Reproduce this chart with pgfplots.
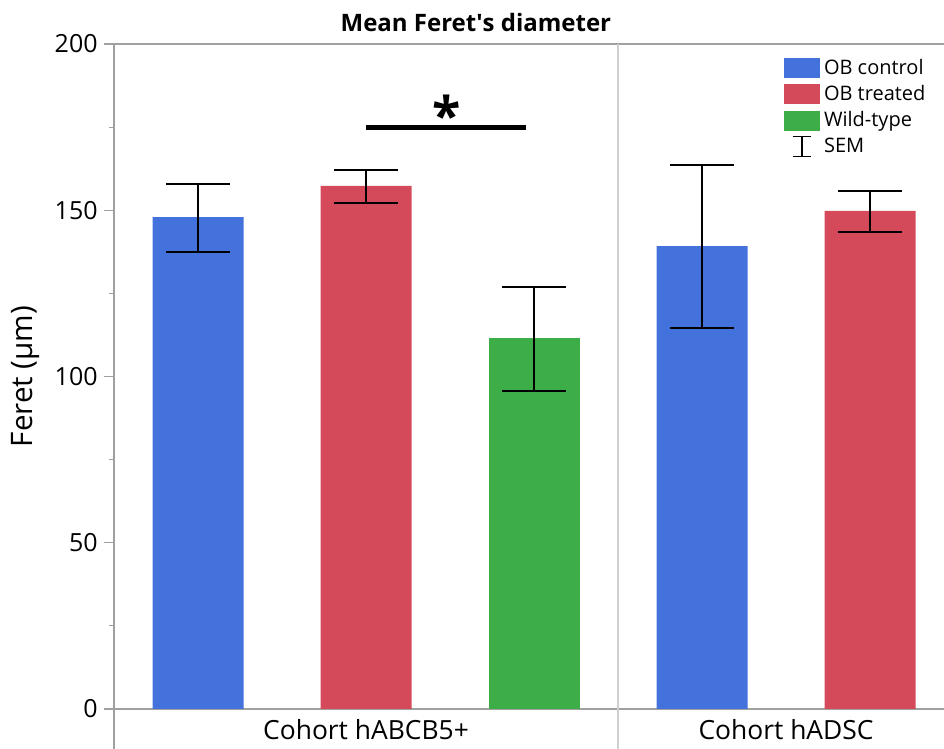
\documentclass[border=0pt]{standalone}
\usepackage{pgfplots}
\pgfplotsset{compat=1.18}
\usepackage{fontspec}
\setmainfont{Open Sans}
\definecolor{cblue}{HTML}{4472DC}
\definecolor{cred}{HTML}{D44A5A}
\definecolor{cgreen}{HTML}{3DAE47}
\definecolor{axgray}{HTML}{A0A0A0}
\definecolor{sepgray}{HTML}{D0D0D0}
\begin{document}
\begin{tikzpicture}
\begin{axis}[
  scale only axis, width=415pt, height=332.5pt,
  xmin=-0.5, xmax=4.44, ymin=0, ymax=200,
  clip=false,
  axis x line*=bottom, axis y line*=left,
  axis line style={axgray, line width=0.8pt},
  xtick={1,3.5}, xticklabels={Cohort hABCB5+, Cohort hADSC},
  major x tick style={draw=none},
  xticklabel style={anchor=base, yshift=-10.5pt, inner sep=0pt, font=\fontsize{13.2}{15}\selectfont},
  ytick={0,50,...,200}, minor ytick={25,75,125,175},
  tick align=outside, major tick length=5pt, minor tick length=2.5pt,
  tick style={axgray, line width=0.6pt},
  yticklabel style={font=\fontsize{12.5}{14}\selectfont, inner sep=0pt, xshift=-3pt},
  /pgf/number format/assume math mode=true,
  ylabel={Feret (µm)},
  ylabel style={at={([xshift=-37pt]axis description cs:0,0.5)}, anchor=south, inner sep=0pt, font=\fontsize{14.8}{17}\selectfont},
  ybar, bar width=45.5pt, bar shift=0pt,
  error bars/y dir=both, error bars/y explicit,
  error bars/error mark=|,
  error bars/error bar style={black, line width=1pt},
  error bars/error mark options={black, line width=1pt, mark size=16pt},
  legend style={at={(rel axis cs:0.807,0.984)}, anchor=north west, draw=none, fill=none,
    inner sep=0pt, row sep=0pt, font=\fontsize{10}{11}\selectfont},
  legend cell align=left,
]
\addplot[fill=cblue, draw=none, forget plot] coordinates {
  (0,147.9) += (0,9.9) -= (0,10.4)
  (3,139.2) += (0,24.4) -= (0,24.6)
};
\addplot[fill=cred, draw=none, forget plot] coordinates {
  (1,157.3) += (0,4.8) -= (0,5.1)
  (4,149.8) += (0,6.0) -= (0,6.3)
};
\addplot[fill=cgreen, draw=none, forget plot] coordinates {
  (2,111.6) += (0,15.3) -= (0,16.0)
};
\addlegendimage{legend image code/.code={\fill[cblue] (0pt,-4.75pt) rectangle (17.5pt,4.75pt);}}
\addlegendentry{OB control}
\addlegendimage{legend image code/.code={\fill[cred] (0pt,-4.75pt) rectangle (17.5pt,4.75pt);}}
\addlegendentry{OB treated}
\addlegendimage{legend image code/.code={\fill[cgreen] (0pt,-4.75pt) rectangle (17.5pt,4.75pt);}}
\addlegendentry{Wild-type}
\addlegendimage{legend image code/.code={\draw[black, line width=0.8pt] (4.25pt,-5pt) -- (13.25pt,-5pt) (8.75pt,-5pt) -- (8.75pt,5pt) (4.25pt,5pt) -- (13.25pt,5pt);}}
\addlegendentry{SEM}
% frame lines
\draw[axgray, line width=0.8pt] (rel axis cs:0,1) -- (rel axis cs:1,1);
\draw[axgray, line width=0.8pt] (rel axis cs:0,0) -- ([yshift=-25pt]rel axis cs:0,0);
\draw[sepgray, line width=0.6pt] (axis cs:2.5,200) -- ([yshift=-25pt]axis cs:2.5,0);
% significance
\draw[black, line width=2.5pt] (axis cs:1,175) -- (axis cs:1.95,175);
\node[font=\bfseries\fontsize{26}{28}\selectfont, inner sep=0pt, anchor=north] at (axis cs:1.48,184.7) {*};
% title
\node[font=\bfseries\fontsize{12}{14}\selectfont, anchor=base] at ([yshift=6pt]rel axis cs:0.436,1) {Mean Feret\textquotesingle s diameter};
\end{axis}
\pgfresetboundingbox
\useasboundingbox ([shift={(-57pt,-20pt)}]current axis.south west) rectangle ([shift={(0pt,22pt)}]current axis.north east);
\end{tikzpicture}
\end{document}
